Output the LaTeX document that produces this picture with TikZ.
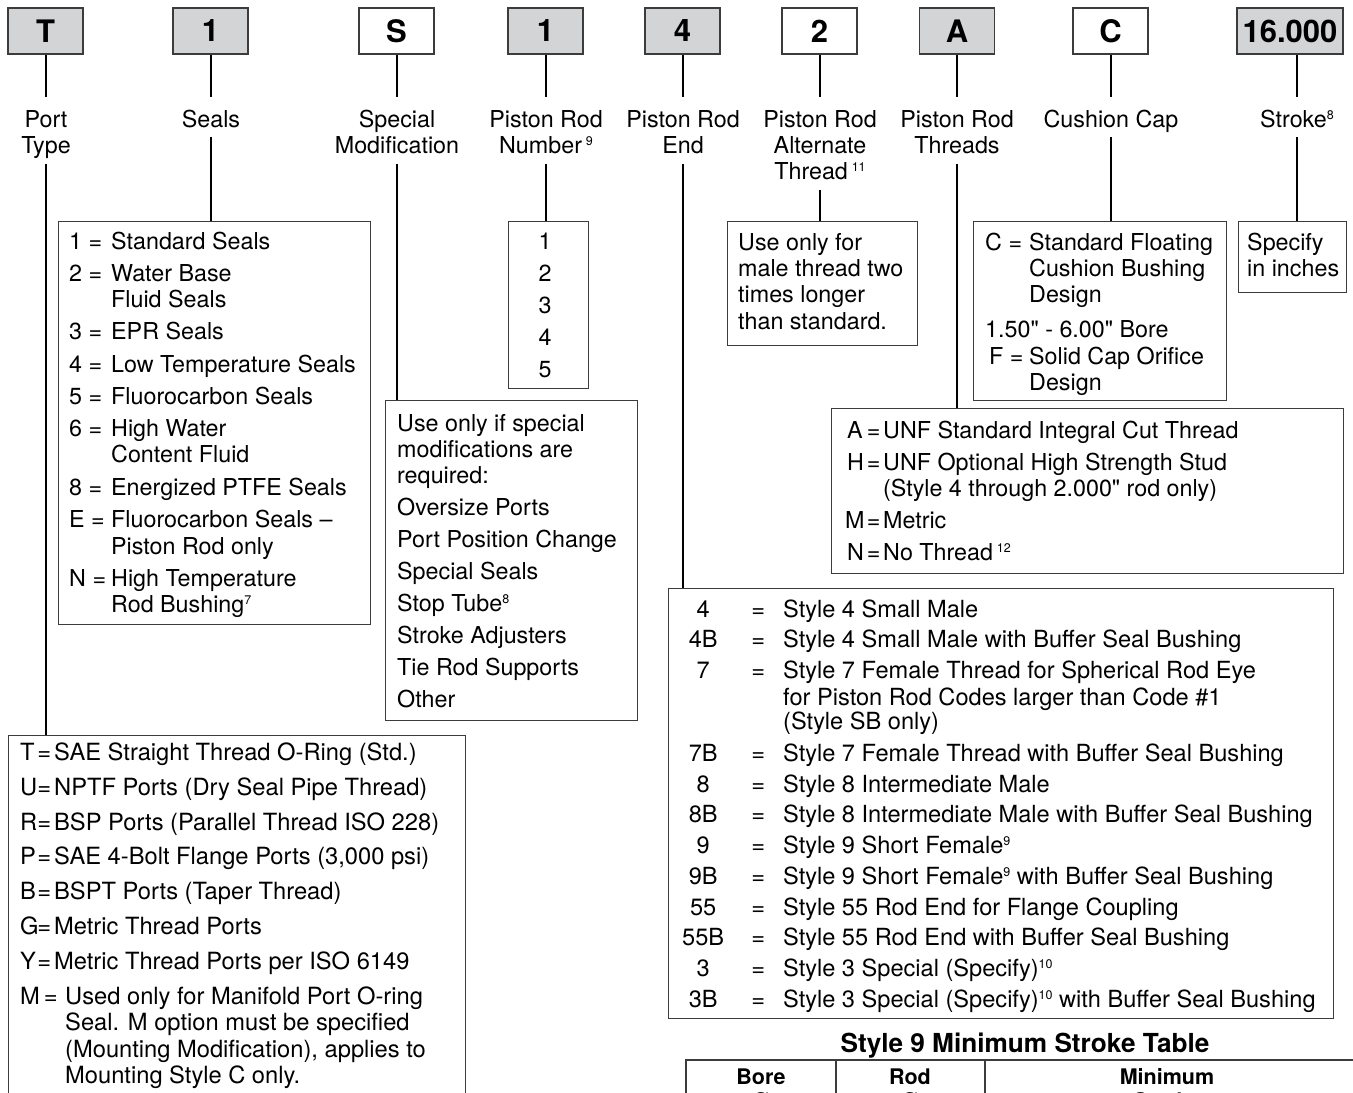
\documentclass[tikz,border=0pt]{standalone}
\usepackage{fontspec}
\setmainfont{TeX Gyre Heros}[Ligatures=TeXOff]
\definecolor{hdrgray}{RGB}{211,212,214}
\definecolor{edge}{RGB}{60,60,60}
\newcommand\bodyfont{\fontsize{23.3}{26.4}\selectfont}
\newcommand\portfont{\fontsize{23.7}{26.4}\selectfont}
\newcommand\rodfont{\fontsize{23.6}{26.4}\selectfont}
\newcommand\hdrfont{\fontsize{31}{34}\selectfont\bfseries}
\newcommand\sups[1]{\raisebox{8pt}{\fontsize{12.5}{13}\selectfont #1}}
\newcommand\cd[2]{\makebox[#1][l]{#2}}
\begin{document}
\begin{tikzpicture}[x=1pt,y=-1pt,
 hdr/.style={draw=edge, line width=1.6pt, fill=hdrgray, minimum width=75pt, minimum height=46pt, inner sep=0pt, font=\hdrfont},
 hdrw/.style={hdr, fill=white},
 lbl/.style={align=center, inner sep=0pt, font=\bodyfont, anchor=north},
 cbox/.style={draw=edge, line width=1.3pt, anchor=north west, inner sep=0pt},
 txt/.style={align=left, anchor=north west, inner sep=0pt, font=\bodyfont},
 ctxt/.style={align=center, anchor=north, inner sep=0pt, font=\bodyfont},
 conn/.style={line width=2pt, black},
 up/.style={shorten >=11.5pt},
 down/.style={shorten <=2pt}]
\useasboundingbox (0,0) rectangle (1353,1093);
\clip (0,0) rectangle (1353,1093);

% header code boxes
\node[hdr]  (hT)    at (45.5,31)  {T};
\node[hdr]  (hSeal) at (210.5,31) {1};
\node[hdrw] (hMod)  at (396.5,31) {S};
\node[hdr]  (hNum)  at (545.5,31) {1};
\node[hdr]  (hEnd)  at (682.5,31) {4};
\node[hdrw] (hAlt)  at (819.5,31) {2};
\node[hdr]  (hThr)  at (957,31)   {A};
\node[hdrw] (hCush) at (1110.5,31) {C};
\node[hdr, minimum width=106pt] (hStr) at (1290,31) {16.000};

% labels
\node[lbl] (lT)    at (46,108.5)   {\strut Port\\Type\strut};
\node[lbl] (lSeal) at (211,108.5)  {\strut Seals\strut};
\node[lbl] (lMod)  at (397,108.5)  {\strut Special\\Modification\strut};
\node[lbl] (lNum)  at (546,108.5)  {\strut Piston Rod\\Number\,\sups{9}\strut};
\node[lbl] (lEnd)  at (683,108.5)  {\strut Piston Rod\\End\strut};
\node[lbl] (lAlt)  at (820,108.5)  {\strut Piston Rod\\Alternate\\Thread\,\sups{11}\strut};
\node[lbl] (lThr)  at (957,108.5)  {\strut Piston Rod\\Threads\strut};
\node[lbl] (lCush) at (1111,108.5) {\strut Cushion Cap\strut};
\node[lbl] (lStr)  at (1297,108.5) {\strut Stroke\sups{8}\strut};

% content boxes
\node[cbox, minimum width=312pt, minimum height=403pt] (bSeal) at (58,221) {};
\node[cbox, minimum width=80pt,  minimum height=167pt] (bNum)  at (508,221) {};
\node[cbox, minimum width=190pt, minimum height=124pt] (bAlt)  at (727,221) {};
\node[cbox, minimum width=253pt, minimum height=179pt] (bCush) at (973,221) {};
\node[cbox, minimum width=108pt, minimum height=71pt]  (bStr)  at (1238,221) {};
\node[cbox, minimum width=252pt, minimum height=320pt] (bMod)  at (385,400) {};
\node[cbox, minimum width=512pt, minimum height=165pt] (bThr)  at (831,408) {};
\node[cbox, minimum width=665pt, minimum height=430pt] (bEnd)  at (668,588) {};
\node[cbox, minimum width=457pt, minimum height=420pt] (bPort) at (8,735) {};

% connectors
\foreach \h/\l/\b in {hT/lT/bPort, hSeal/lSeal/bSeal, hMod/lMod/bMod, hNum/lNum/bNum,
  hEnd/lEnd/bEnd, hAlt/lAlt/bAlt, hThr/lThr/bThr, hCush/lCush/bCush}{
  \draw[conn, up] (\h.south) -- (\h.south |- \l.north);
  \draw[conn, down] (\l.south) -- (\l.south |- \b.north);
}
\draw[conn, up] (lStr.north |- hStr.south) -- (lStr.north);
\draw[conn, down] (lStr.south) -- (lStr.south |- bStr.north);

% seals
\node[txt] (tSeal) at (69,230.5) {\strut\cd{42pt}{1 =}Standard Seals\\[5.8pt]
\cd{42pt}{2 =}Water Base\\
\cd{42pt}{}Fluid Seals\\[5.8pt]
\cd{42pt}{3 =}EPR Seals\\[5.8pt]
\cd{42pt}{4 =}Low Temperature Seals\\[5.8pt]
\cd{42pt}{5 =}Fluorocarbon Seals\\[5.8pt]
\cd{42pt}{6 =}High Water\\
\cd{42pt}{}Content Fluid\\[6.2pt]
\cd{42pt}{8 =}Energized PTFE Seals\\[5.8pt]
\cd{42pt}{E =}Fluorocarbon Seals –\\
\cd{42pt}{}Piston Rod only\\[5.8pt]
\cd{42pt}{N =}High Temperature\\
\cd{42pt}{}Rod Bushing\sups{7}};

% piston rod number
\node[ctxt] (tNum) at (545,230.5) {\strut 1\\[5.6pt]2\\[5.6pt]3\\[5.6pt]4\\[5.6pt]5};

% special modification
\node[txt] (tMod) at (397,412.5) {\strut Use only if special\\
modifications are\\
required:\\[5.6pt]
Oversize Ports\\[5.6pt]
Port Position Change\\[5.6pt]
Special Seals\\[5.6pt]
Stop Tube\sups{8}\\[5.6pt]
Stroke Adjusters\\[5.6pt]
Tie Rod Supports\\[5.6pt]
Other};

% alternate thread
\node[txt] (tAlt) at (738,231.5) {\strut Use only for\\
male thread two\\
times longer\\
than standard.};

% cushion cap
\node[txt] (tCush) at (985,231.5) {\strut\cd{44pt}{C =}Standard Floating\\
\cd{44pt}{}Cushion Bushing\\
\cd{44pt}{}Design\\[8.4pt]
1.50" - 6.00" Bore\\
\cd{44pt}{\hspace{4pt}F =}Solid Cap Orifice\\
\cd{44pt}{}Design};

% stroke
\node[txt] (tStr) at (1247,231.5) {\strut Specify\\in inches};

% threads
\newcommand\tc[1]{\makebox[36pt][l]{\makebox[20pt][l]{#1}\makebox[13pt][c]{=}}}
\node[txt] (tThr) at (847,419.5) {\strut\tc{A}UNF Standard Integral Cut Thread\\[5.6pt]
\tc{H}UNF Optional High Strength Stud\\
\hspace*{36pt}(Style 4 through 2.000" rod only)\\[5.6pt]
\tc{\hspace{-2pt}M}Metric\\[5.6pt]
\tc{N}No Thread\,\sups{12}};

% rod end
\newcommand\rc[1]{\makebox[60pt][c]{#1}\makebox[50pt][c]{=}}
\node[txt, font=\rodfont] (tEnd) at (673,598.5) {\strut\rc{4}Style 4 Small Male\\[4.4pt]
\rc{4B}Style 4 Small Male with Buffer Seal Bushing\\[4.4pt]
\rc{7}Style 7 Female Thread for Spherical Rod Eye\\
\hspace*{110pt}for Piston Rod Codes larger than Code \#1\\[-2pt]
\hspace*{110pt}(Style SB only)\\[5.6pt]
\rc{7B}Style 7 Female Thread with Buffer Seal Bushing\\[4.2pt]
\rc{8}Style 8 Intermediate Male\\[4.4pt]
\rc{8B}Style 8 Intermediate Male with Buffer Seal Bushing\\[4.4pt]
\rc{9}Style 9 Short Female\sups{9}\\[4.2pt]
\rc{9B}Style 9 Short Female\sups{9} with Buffer Seal Bushing\\[4.4pt]
\rc{55}Style 55 Rod End for Flange Coupling\\[4.4pt]
\rc{55B}Style 55 Rod End with Buffer Seal Bushing\\[4.2pt]
\rc{3}Style 3 Special (Specify)\sups{10}\\[4.4pt]
\rc{3B}Style 3 Special (Specify)\sups{10} with Buffer Seal Bushing};

% port type
\newcommand\pc[1]{\makebox[34pt][l]{\makebox[17.5pt][l]{#1}\makebox[13pt][c]{=}}}
\node[txt, font=\portfont] (tPort) at (20,741.5) {\strut\pc{T}SAE Straight Thread O-Ring (Std.)\\[8.8pt]
\pc{U}NPTF Ports (Dry Seal Pipe Thread)\\[8.6pt]
\pc{R}BSP Ports (Parallel Thread ISO 228)\\[8.2pt]
\pc{P}SAE 4-Bolt Flange Ports (3,000 psi)\\[8.6pt]
\pc{B}BSPT Ports (Taper Thread)\\[8.2pt]
\pc{G}Metric Thread Ports\\[8.6pt]
\pc{Y}Metric Thread Ports per ISO 6149\\[8.6pt]
\makebox[45pt][l]{M\hspace{4pt}=}Used only for Manifold Port O-ring\\
\hspace*{45pt}Seal. M option must be specified\\
\hspace*{45pt}(Mounting Modification), applies to\\
\hspace*{45pt}Mounting Style C only.};

% style 9 minimum stroke table
\node[anchor=base, inner sep=0pt, font=\fontsize{26.2}{28}\selectfont\bfseries] (tTitle) at (1025,1052) {Style 9 Minimum Stroke Table};
\coordinate (tabNW) at (686,1060);
\coordinate (tabNE) at (1360,1060);
\coordinate (tabSW) at (686,1110);
\draw[edge, line width=1.3pt] (tabSW) -- (tabNW) -- (tabNE);
\draw[edge, line width=1.3pt] (836,1060) -- (836,1110);
\draw[edge, line width=1.3pt] (985,1060) -- (985,1110);
\node[ctxt, font=\fontsize{21.5}{24.5}\selectfont\bfseries] (cBore) at (761,1067) {\strut Bore\\Ø};
\node[ctxt, font=\fontsize{21.5}{24.5}\selectfont\bfseries] (cRod) at (910,1067) {\strut Rod\\Ø};
\node[ctxt, font=\fontsize{21.5}{24.5}\selectfont\bfseries] (cMin) at (1167,1067) {\strut Minimum\\Stroke};
\end{tikzpicture}
\end{document}
